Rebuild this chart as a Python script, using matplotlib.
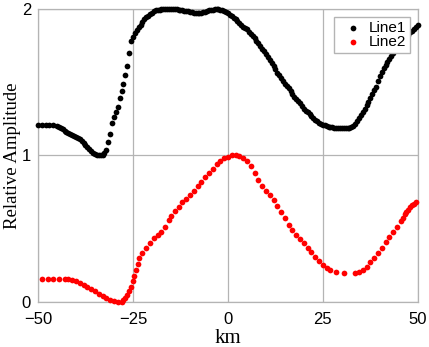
import matplotlib.pyplot as plt
import numpy as np

# Line1 (black)
x1 = [-50, -49, -48, -47, -46, -45, -44, -43, -42, -41, -40, -39, -38, -37, -36, -35, -34, -33, -32,
      -31.5, -31, -30.5, -30, -29.5, -29, -28.5, -28, -27.5, -27, -26.5, -26, -25.5, -25, -24.5, -24, -23.5, -23,
      -22, -21, -20, -19, -18, -17, -16, -15, -14, -13, -12, -11, -10, -9, -8, -7, -6, -5, -4, -3, -2, -1,
      0, 1, 2, 3, 4, 5, 6, 7, 8, 9, 10, 11, 12, 13, 14, 15, 16, 17, 18, 19, 20, 21, 22, 23, 24, 25,
      26, 27, 28, 29, 30, 31, 32, 33,
      33.5, 34, 34.5, 35, 35.5, 36, 36.5, 37, 37.5, 38, 38.5, 39, 39.5, 40, 40.5, 41, 41.5, 42, 42.5,
      43, 43.5, 44, 44.5, 45, 45.5, 46, 46.5, 47, 47.5, 48, 48.5, 49, 49.5, 50]
y1 = [1.21, 1.21, 1.21, 1.21, 1.21, 1.20, 1.19, 1.17, 1.155, 1.14, 1.125, 1.11, 1.085, 1.055, 1.03, 1.01, 1.0, 1.005, 1.04,
      1.09, 1.15, 1.22, 1.26, 1.30, 1.33, 1.39, 1.44, 1.49, 1.55, 1.61, 1.70, 1.78, 1.81, 1.835, 1.855, 1.875, 1.89,
      1.93, 1.955, 1.975, 1.99, 1.995, 2.0, 2.0, 2.0, 2.0, 1.995, 1.99, 1.985, 1.98, 1.975, 1.97, 1.975, 1.98, 1.99, 1.995, 2.0, 1.995, 1.985,
      1.97, 1.95, 1.93, 1.905, 1.88, 1.86, 1.83, 1.80, 1.765, 1.73, 1.69, 1.65, 1.61, 1.565, 1.53, 1.49, 1.46, 1.42, 1.385, 1.355, 1.32, 1.295, 1.27, 1.245, 1.225, 1.21,
      1.20, 1.195, 1.19, 1.19, 1.185, 1.185, 1.19, 1.20,
      1.215, 1.235, 1.255, 1.275, 1.30, 1.32, 1.345, 1.365, 1.39, 1.42, 1.445, 1.47, 1.51, 1.54, 1.57, 1.595, 1.62, 1.64, 1.66,
      1.68, 1.70, 1.72, 1.74, 1.755, 1.77, 1.785, 1.80, 1.81, 1.825, 1.84, 1.85, 1.86, 1.875, 1.89]

# extra Line1 readings where the dots run together
x1b = [-44.5, -43.5, -42.5, -41.5, -40.5, -39.5, -38.5, -37.5, -36.5, -35.5, -34.5, -33.5, -32.5, -22.5,
       -21.5, -20.5, -19.5, -18.5, -17.5, -16.5, -15.5, -14.5, -13.5, -12.5, -11.5, -10.5, -9.5, -8.5, -7.5,
       -6.5, -5.5, -4.5, -3.5, -2.5, -1.5, -0.5,
       0.5, 1.5, 2.5, 3.5, 4.5, 5.5, 6.5, 7.5, 8.5, 9.5, 10.5, 11.5, 12.5, 13.5, 14.5, 15.5, 16.5, 17.5,
       18.5, 19.5, 20.5, 21.5, 22.5, 23.5, 24.5, 25.5, 26.5, 27.5, 28.5, 29.5, 30.5, 31.5, 32.5]
y1b = [1.195, 1.18, 1.162, 1.148, 1.133, 1.118, 1.098, 1.07, 1.042, 1.02, 1.003, 1.0, 1.02, 1.91,
       1.945, 1.965, 1.983, 1.993, 1.998, 2.0, 2.0, 2.0, 1.998, 1.993, 1.988, 1.983, 1.978, 1.972, 1.972,
       1.978, 1.985, 1.993, 1.998, 1.998, 1.99, 1.978,
       1.96, 1.94, 1.918, 1.893, 1.87, 1.845, 1.815, 1.783, 1.748, 1.71, 1.67, 1.63, 1.588, 1.548, 1.51, 1.475, 1.44, 1.40,
       1.37, 1.338, 1.307, 1.283, 1.257, 1.235, 1.217, 1.205, 1.197, 1.192, 1.19, 1.188, 1.185, 1.187, 1.195]

# Line2 (red)
x2 = [-49, -47.5, -46, -44.5, -43, -42, -41, -40, -39, -38, -37, -36, -35, -34, -33, -32, -31, -30, -29, -28,
      -27.5, -27, -26.5, -26, -25.5, -25, -24.6, -24.2, -23.8, -23.3, -22.5, -21.5, -20.5, -19.5, -18.5, -17.5, -16.5,
      -15.5, -15, -14, -13, -12, -11, -10, -9, -8, -7, -6, -5, -4, -3, -2, -1, 0, 1, 2, 3, 4, 5, 6, 7, 8, 9,
      10, 11, 12, 13, 14, 15, 16, 17, 18, 19, 20, 21, 22, 23, 24, 25, 26, 27, 28.5, 30.5, 33.5, 34.5, 35.5,
      36.5, 37.5, 38.5, 39.5, 40.5, 41.5, 42.5, 43.5, 44.5, 45.5, 46, 46.5, 47, 47.5, 48, 48.5, 49, 49.5]
y2 = [0.155, 0.155, 0.155, 0.155, 0.155, 0.155, 0.148, 0.14, 0.128, 0.115, 0.10, 0.088, 0.073, 0.057, 0.042, 0.028, 0.015, 0.006, 0.001, 0.003,
      0.012, 0.028, 0.05, 0.075, 0.10, 0.14, 0.18, 0.22, 0.26, 0.30, 0.335, 0.37, 0.40, 0.435, 0.46, 0.48, 0.51,
      0.56, 0.59, 0.62, 0.65, 0.68, 0.70, 0.73, 0.76, 0.79, 0.82, 0.85, 0.88, 0.91, 0.94, 0.965, 0.98, 0.99, 1.0, 1.0, 0.995, 0.98, 0.96, 0.93, 0.88, 0.83, 0.79,
      0.76, 0.73, 0.695, 0.655, 0.615, 0.57, 0.525, 0.49, 0.46, 0.43, 0.40, 0.37, 0.34, 0.31, 0.28, 0.25, 0.235, 0.22, 0.205, 0.20, 0.20, 0.205, 0.22,
      0.24, 0.27, 0.30, 0.335, 0.37, 0.41, 0.445, 0.48, 0.51, 0.55, 0.575, 0.60, 0.615, 0.63, 0.645, 0.66, 0.67, 0.685]

xticks = [-50, -25, 0, 25, 50]
yticks = [0, 1, 2]

fig = plt.figure(figsize=(4.29, 3.47), dpi=100)
ax = fig.add_axes([0.0886, 0.1297, 0.8854, 0.8444])

ax.scatter(x1 + x1b, y1 + y1b, s=17, color="black", label="Line1", clip_on=False, zorder=3, linewidths=0)
ax.scatter(x2, y2, s=17, color="red", label="Line2", clip_on=False, zorder=3, linewidths=0)

ax.set_xlim(-50, 50)
ax.set_ylim(0, 2)
ax.set_xticks(xticks)
ax.set_yticks(yticks)
ax.tick_params(length=0, labelsize=12)
ax.tick_params(axis="y", pad=5)
ax.tick_params(axis="x", pad=7)
for lab in ax.get_xticklabels() + ax.get_yticklabels():
    lab.set_family("Liberation Sans")

ax.grid(True, color="#b4b4b4", linewidth=0.9)
for sp in ax.spines.values():
    sp.set_color("#b4b4b4")
    sp.set_linewidth(0.9)

ax.set_xlabel("km", family="Liberation Serif", fontsize=15, labelpad=2)
ax.set_ylabel("Relative Amplitude", family="Liberation Serif", fontsize=13.5)
ax.yaxis.set_label_coords(-0.044, 0.5)

leg = ax.legend(loc="upper right", bbox_to_anchor=(0.979, 0.973), prop={"family": "Liberation Sans", "size": 11},
                fancybox=False, edgecolor="#b4b4b4", framealpha=1, handletextpad=0.0, borderpad=0.25,
                labelspacing=0.0, handlelength=2.0, borderaxespad=0)

fig.savefig("out.png", dpi=100)
